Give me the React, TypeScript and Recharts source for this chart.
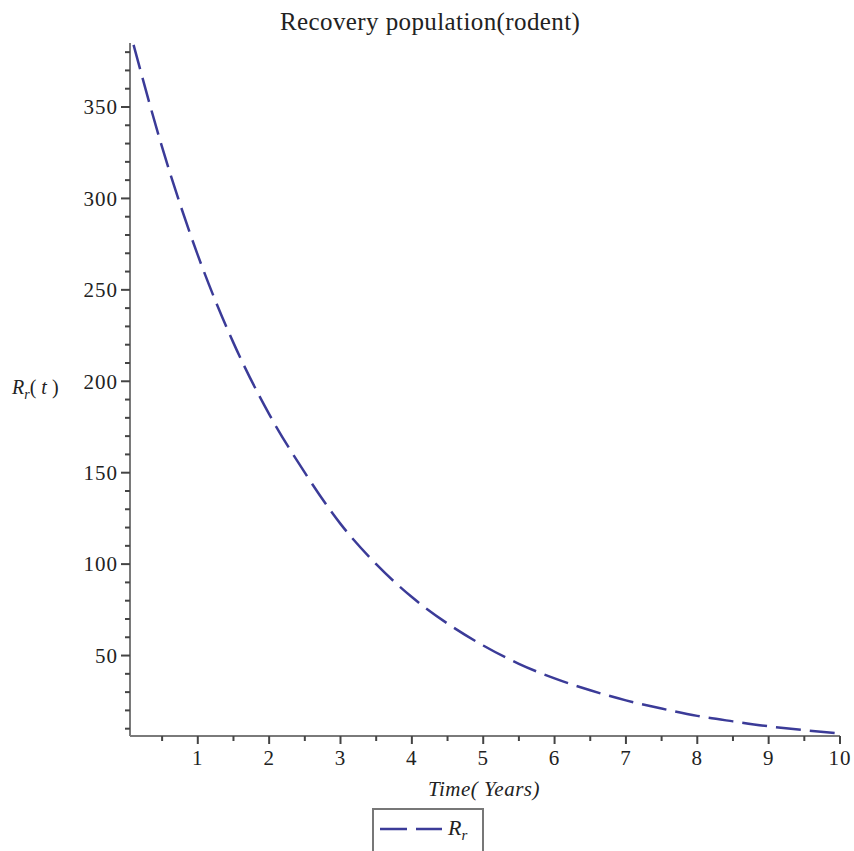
import React from 'react'
import { LineChart, Line, XAxis, YAxis } from 'recharts'

// time in years
const times = [0.1, 0.5, 1, 1.5, 2, 2.5, 3, 3.5, 4, 4.5, 5, 5.5, 6, 6.5, 7, 7.5, 8, 8.5, 9, 9.5, 10]
// recovered rodents R_r(t)
const recovered = [384, 328, 269, 221, 182, 150, 122, 100, 82, 67.5, 55.5, 45.5, 37.5, 31, 25.5, 21, 17, 14, 11.3, 9.2, 7.3]

const xTicks = [0.5, 1, 1.5, 2, 2.5, 3, 3.5, 4, 4.5, 5, 5.5, 6, 6.5, 7, 7.5, 8, 8.5, 9, 9.5, 10]
const xLabels = [1, 2, 3, 4, 5, 6, 7, 8, 9, 10]
const yTicks = [
  10, 20, 30, 40, 50, 60, 70, 80, 90, 100, 110, 120, 130, 140, 150, 160, 170, 180, 190,
  200, 210, 220, 230, 240, 250, 260, 270, 280, 290, 300, 310, 320, 330, 340, 350, 360, 370, 380,
]
const yLabels = [50, 100, 150, 200, 250, 300, 350]

const data = times.map((t, i) => ({ t, r: recovered[i] }))

const SERIF = '"Liberation Serif", "Times New Roman", serif'
const LINE = '#3b3b98'
const AXIS = '#7a7a7a'

const YTick = ({ x, y, payload }: any) => {
  const major = yLabels.includes(payload.value)
  return (
    <g>
      <line x1={x} x2={x - (major ? 9 : 5)} y1={y} y2={y} stroke="#444" strokeWidth={2} />
      {major && (
        <text x={x - 12} y={y} dy="0.35em" textAnchor="end" fontFamily={SERIF} fontSize={21} fill="#222" letterSpacing={1}>
          {payload.value}
        </text>
      )}
    </g>
  )
}

const XTick = ({ x, y, payload }: any) => {
  const major = xLabels.includes(payload.value)
  return (
    <g>
      <line x1={x} x2={x} y1={y} y2={y + (major ? 8 : 5)} stroke="#444" strokeWidth={2} />
      {major && (
        <text x={x} y={y + 29} textAnchor="middle" fontFamily={SERIF} fontSize={21} fill="#222" letterSpacing={1}>
          {payload.value}
        </text>
      )}
    </g>
  )
}

export default function App() {
  return (
    <div
      style={{
        position: 'absolute',
        left: 0,
        top: 0,
        width: 854,
        height: 851,
        overflow: 'hidden',
        background: '#fff',
        fontFamily: SERIF,
        color: '#222',
      }}
    >
      <div style={{ position: 'absolute', left: 280, top: 8, fontSize: 25, letterSpacing: 0.4, whiteSpace: 'nowrap' }}>
        Recovery population(rodent)
      </div>

      <LineChart width={854} height={851} data={data} margin={{ top: 43, right: 14, left: 70, bottom: 85 }}>
        <XAxis
          dataKey="t"
          type="number"
          domain={[0.05, 10]}
          ticks={xTicks}
          interval={0}
          allowDataOverflow
          height={30}
          tickSize={0}
          tickMargin={0}
          tickLine={false}
          axisLine={{ stroke: AXIS, strokeWidth: 2 }}
          tick={<XTick />}
        />
        <YAxis
          type="number"
          domain={[6, 385]}
          ticks={yTicks}
          interval={0}
          allowDataOverflow
          width={60}
          tickSize={0}
          tickMargin={0}
          tickLine={false}
          axisLine={{ stroke: AXIS, strokeWidth: 2 }}
          tick={<YTick />}
        />
        <Line
          type="monotone"
          dataKey="r"
          stroke={LINE}
          strokeWidth={2.5}
          strokeDasharray="25 9"
          dot={false}
          isAnimationActive={false}
        />
      </LineChart>

      {/* y axis title */}
      <div style={{ position: 'absolute', left: 12, top: 376, fontSize: 20, whiteSpace: 'nowrap' }}>
        <i>R</i>
        <sub style={{ fontSize: 14, fontStyle: 'italic' }}>r</sub>
        <span>(</span>
        <i> t</i>
        <span> )</span>
      </div>

      {/* x axis title */}
      <div style={{ position: 'absolute', left: 428, top: 777, fontSize: 21, letterSpacing: 0.5, fontStyle: 'italic', whiteSpace: 'nowrap' }}>
        Time( Years)
      </div>

      {/* legend */}
      <div
        style={{
          position: 'absolute',
          left: 372,
          top: 808,
          width: 108,
          height: 50,
          border: '2px solid #777',
          display: 'flex',
          alignItems: 'center',
        }}
      >
        <svg width={70} height={20} style={{ marginLeft: 4, marginTop: -12 }}>
          <line x1={2} x2={64} y1={10} y2={10} stroke={LINE} strokeWidth={2.5} strokeDasharray="27 9" />
        </svg>
        <span style={{ fontSize: 22, fontStyle: 'italic', marginTop: -10 }}>
          R<sub style={{ fontSize: 15 }}>r</sub>
        </span>
      </div>
    </div>
  )
}
